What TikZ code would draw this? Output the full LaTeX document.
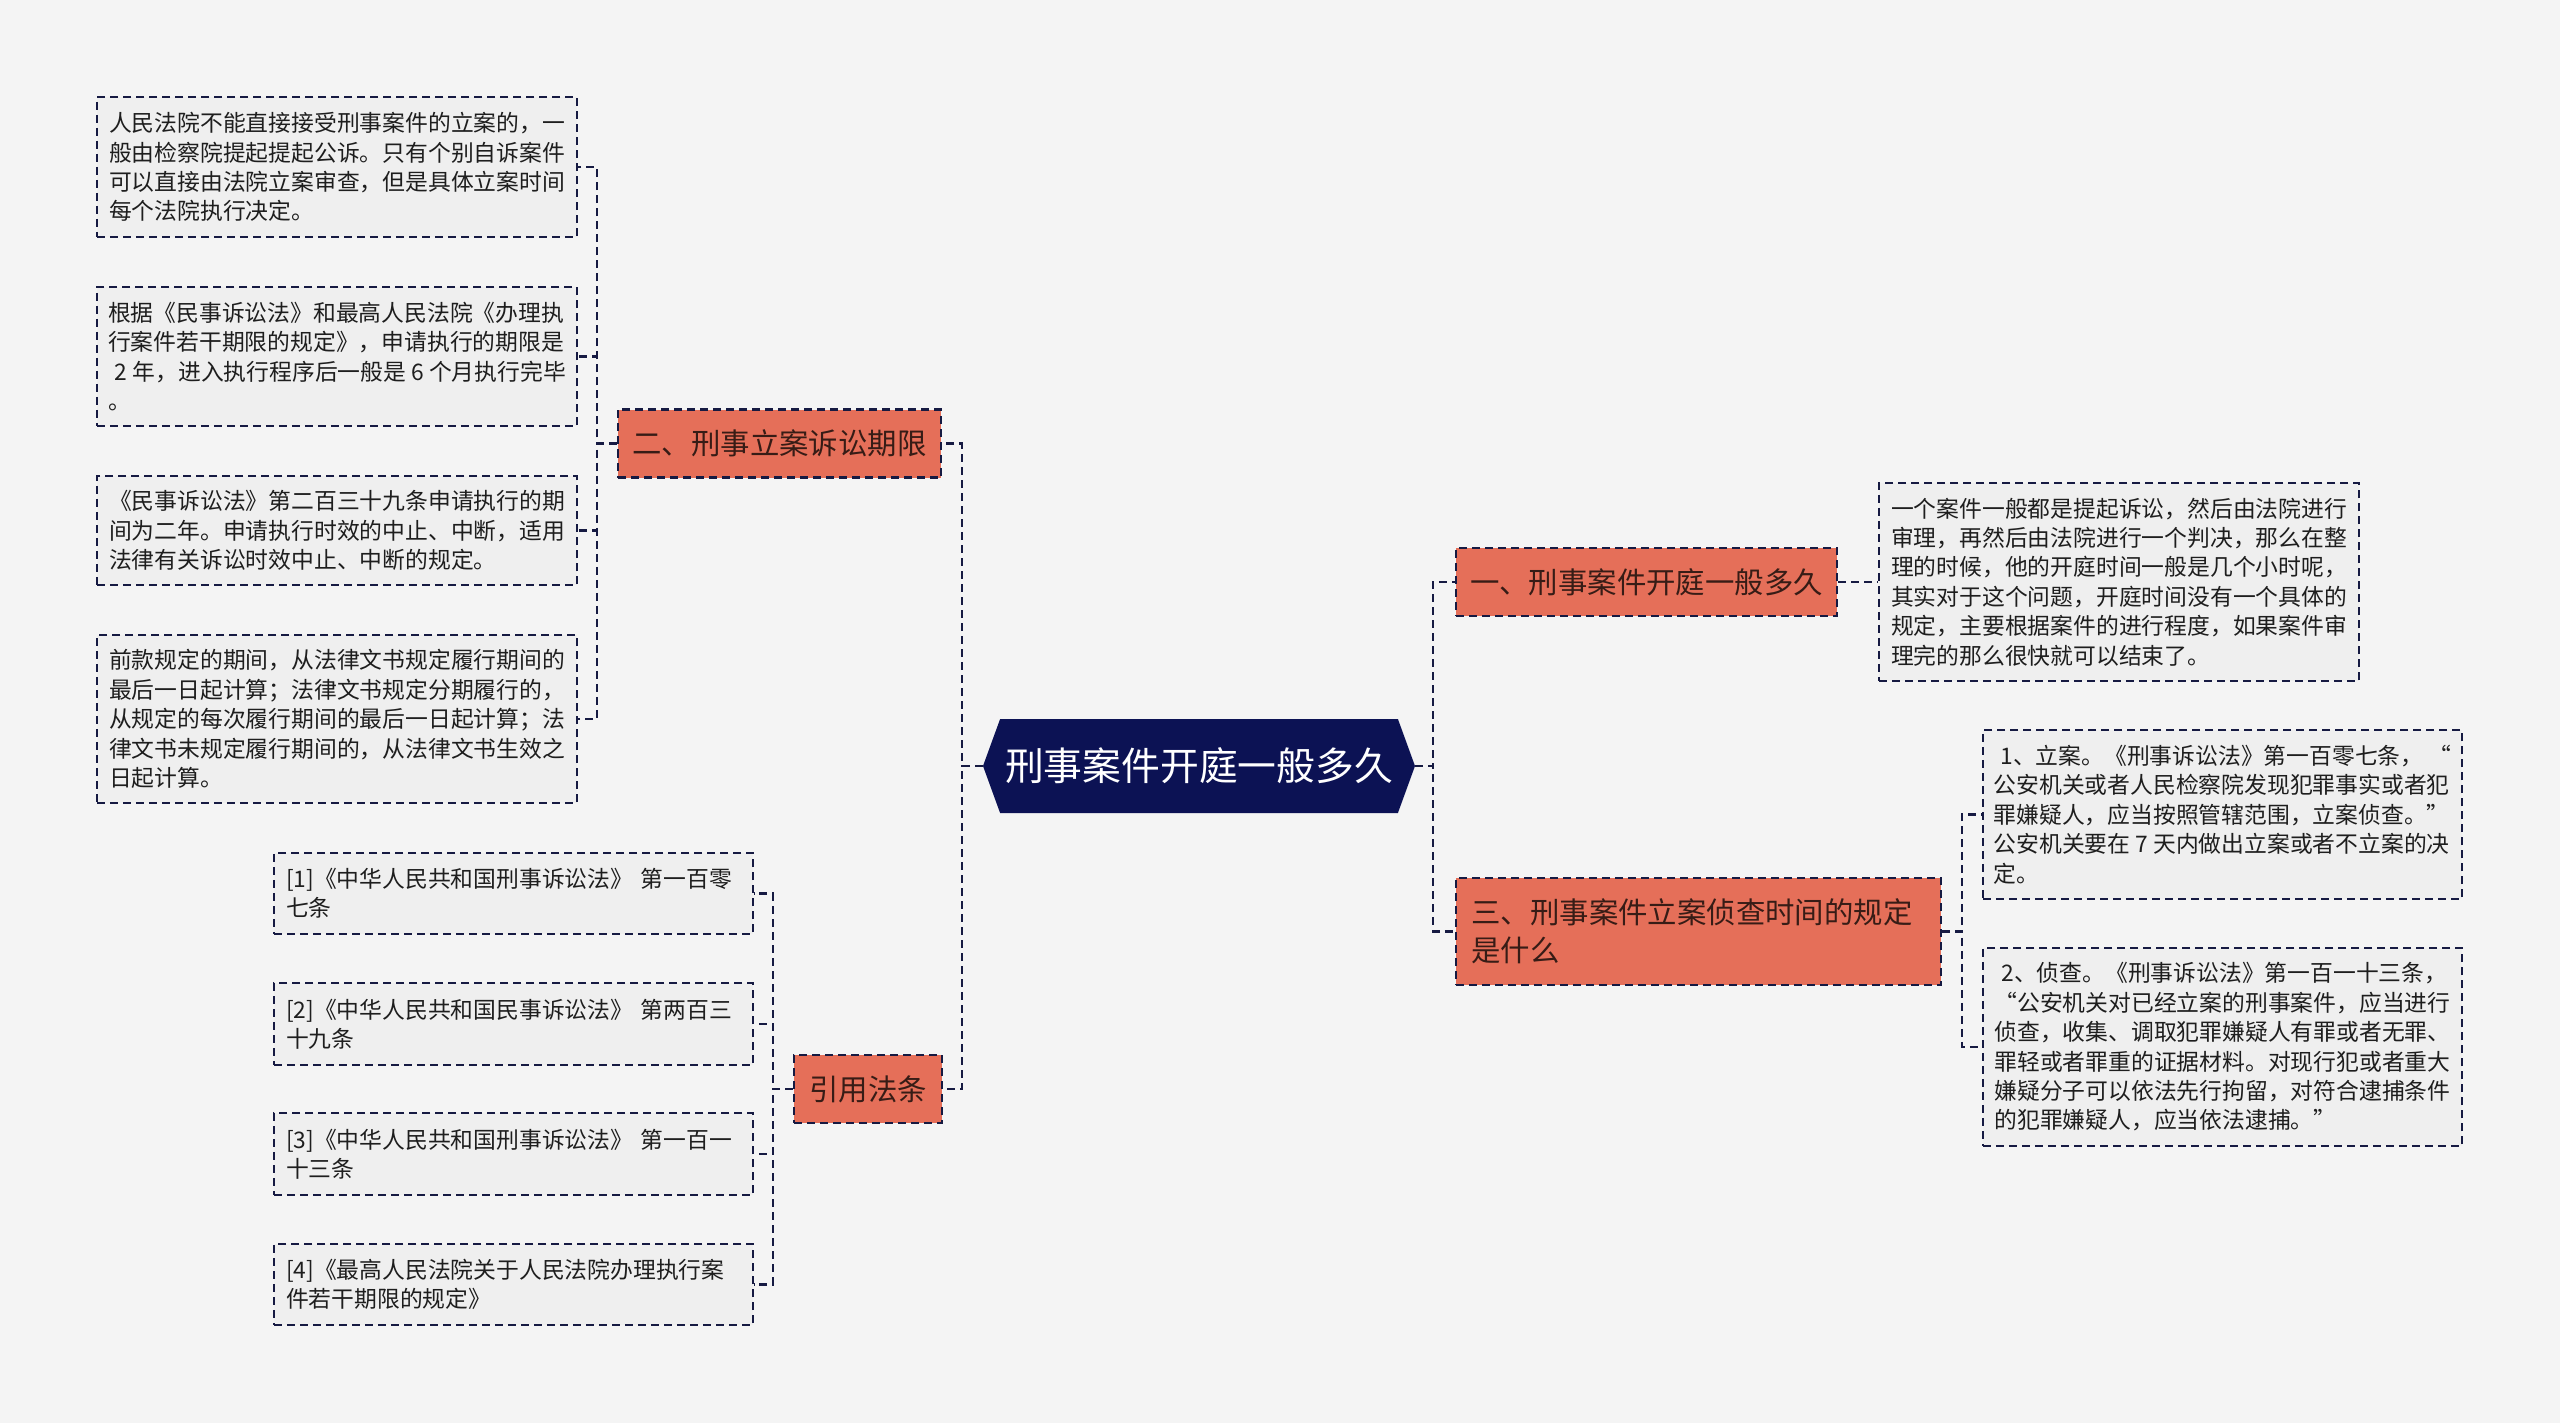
\documentclass[tikz,border=0pt]{standalone}
\usepackage{fontspec}
\setmainfont{Noto Sans CJK SC}
\usepackage{tikz}
\usetikzlibrary{shapes.symbols}
\definecolor{bgcol}{RGB}{244,244,244}
\definecolor{rootcol}{RGB}{12,18,84}
\definecolor{branchcol}{RGB}{229,111,89}
\definecolor{branchtext}{RGB}{55,28,22}
\definecolor{leaffill}{RGB}{239,239,239}
\definecolor{leaftext}{RGB}{30,30,30}
\definecolor{linecol}{RGB}{22,26,66}

\begin{document}
\begin{tikzpicture}[x=0.5pt, y=-0.5pt,
    link/.style={draw=linecol, line width=1.4pt, dash pattern=on 4pt off 2.5pt},
    rootbox/.style={signal, signal to=east and west, signal pointer angle=140, fill=rootcol, text=white,
        font=\fontsize{19.4}{24}\selectfont, minimum width=216pt, minimum height=47pt, inner sep=0pt},
    branch/.style={fill=branchcol, draw=linecol, line width=1.3pt, dash pattern=on 4pt off 2.5pt, text=branchtext,
        font=\fontsize{14.7}{19}\selectfont, inner sep=0pt, minimum height=34pt},
    leaf/.style={fill=leaffill, draw=linecol, line width=1pt, dash pattern=on 4pt off 2.5pt, text=leaftext,
        font=\fontsize{11.4}{14.7}\selectfont, align=left, inner sep=0pt, minimum width=240pt, minimum height=#1}]
\fill[bgcol] (0,0) rectangle (2560,1423);
\useasboundingbox (0,0) rectangle (2560,1423);

% centre and main branches
\node[rootbox] (root) at (1199,766) {刑事案件开庭一般多久};
\node[branch, minimum width=161.5pt] (b2) at (779.5,443.5) {二、刑事立案诉讼期限};
\node[branch, minimum width=74pt] (bref) at (868,1089) {引用法条};
\node[branch, minimum width=190.5pt] (b1) at (1646.5,582) {一、刑事案件开庭一般多久};
\node[branch, minimum width=242.5pt, minimum height=53.5pt, text width=227pt, align=left] (b3) at (1698.5,931.5) {三、刑事案件立案侦查时间的规定\\是什么};

% leaves of b2
\node[leaf=70pt] (l1) at (337,167) {人民法院不能直接接受刑事案件的立案的，一\\%
般由检察院提起提起公诉。只有个别自诉案件\\%
可以直接由法院立案审查，但是具体立案时间\\%
每个法院执行决定。};
\node[leaf=69.5pt] (l2) at (337,356.5) {根据《民事诉讼法》和最高人民法院《办理执\\%
行案件若干期限的规定》，申请执行的期限是\\%
\hspace{0.3em}2 年，进入执行程序后一般是 6 个月执行完毕\\%
。};
\node[leaf=54.5pt] (l3) at (337,530.5) {《民事诉讼法》第二百三十九条申请执行的期\\%
间为二年。申请执行时效的中止、中断，适用\\%
法律有关诉讼时效中止、中断的规定。};
\node[leaf=84pt] (l4) at (337,719) {前款规定的期间，从法律文书规定履行期间的\\%
最后一日起计算；法律文书规定分期履行的，\\%
从规定的每次履行期间的最后一日起计算；法\\%
律文书未规定履行期间的，从法律文书生效之\\%
日起计算。};

% leaves of bref
\node[leaf=40.5pt, minimum width=239.5pt, text width=227.5pt] (r1) at (513.5,893.5) {[1]《中华人民共和国刑事诉讼法》 第一百零\\%
七条};
\node[leaf=41pt, minimum width=239.5pt, text width=227.5pt] (r2) at (513.5,1024) {[2]《中华人民共和国民事诉讼法》 第两百三\\%
十九条};
\node[leaf=41pt, minimum width=239.5pt, text width=227.5pt] (r3) at (513.5,1154) {[3]《中华人民共和国刑事诉讼法》 第一百一\\%
十三条};
\node[leaf=40.5pt, minimum width=239.5pt, text width=227.5pt] (r4) at (513.5,1284.5) {[4]《最高人民法院关于人民法院办理执行案\\%
件若干期限的规定》};

% leaves of b1 and b3
\node[leaf=99pt] (o1) at (2119,582) {一个案件一般都是提起诉讼，然后由法院进行\\%
审理，再然后由法院进行一个判决，那么在整\\%
理的时候，他的开庭时间一般是几个小时呢，\\%
其实对于这个问题，开庭时间没有一个具体的\\%
规定，主要根据案件的进行程度，如果案件审\\%
理完的那么很快就可以结束了。};
\node[leaf=84.5pt, minimum width=239.5pt] (s1) at (2222.5,814.5) {\hspace{0.3em}1、立案。《刑事诉讼法》第一百零七条， “\\%
公安机关或者人民检察院发现犯罪事实或者犯\\%
罪嫌疑人，应当按照管辖范围，立案侦查。”\\%
公安机关要在 7 天内做出立案或者不立案的决\\%
定。};
\node[leaf=99pt, minimum width=239.5pt] (s2) at (2222.5,1047) {\hspace{0.3em}2、侦查。《刑事诉讼法》第一百一十三条，\\%
“公安机关对已经立案的刑事案件，应当进行\\%
侦查，收集、调取犯罪嫌疑人有罪或者无罪、\\%
罪轻或者罪重的证据材料。对现行犯或者重大\\%
嫌疑分子可以依法先行拘留，对符合逮捕条件\\%
的犯罪嫌疑人，应当依法逮捕。”};

% junctions
\coordinate (jl) at (962,766);
\coordinate (jr) at (1433,766);
\coordinate (j2) at (597,443.5);
\coordinate (jref) at (773,1089);
\coordinate (j3) at (1962,931.5);

% connectors
\draw[link] (root.west) -- (jl) |- (b2.east);
\draw[link] (root.west) -- (jl) |- (bref.east);
\draw[link] (root.east) -- (jr) |- (b1.west);
\draw[link] (root.east) -- (jr) |- (b3.west);
\draw[link] (b1.east) -- (o1.west);
\draw[link] (b3.east) -- (j3) |- (s1.west);
\draw[link] (b3.east) -- (j3) |- (s2.west);
\draw[link] (b2.west) -- (j2) |- (l1.east);
\draw[link] (b2.west) -- (j2) |- (l2.east);
\draw[link] (b2.west) -- (j2) |- (l3.east);
\draw[link] (b2.west) -- (j2) |- (l4.east);
\draw[link] (bref.west) -- (jref) |- (r1.east);
\draw[link] (bref.west) -- (jref) |- (r2.east);
\draw[link] (bref.west) -- (jref) |- (r3.east);
\draw[link] (bref.west) -- (jref) |- (r4.east);
\end{tikzpicture}
\end{document}
